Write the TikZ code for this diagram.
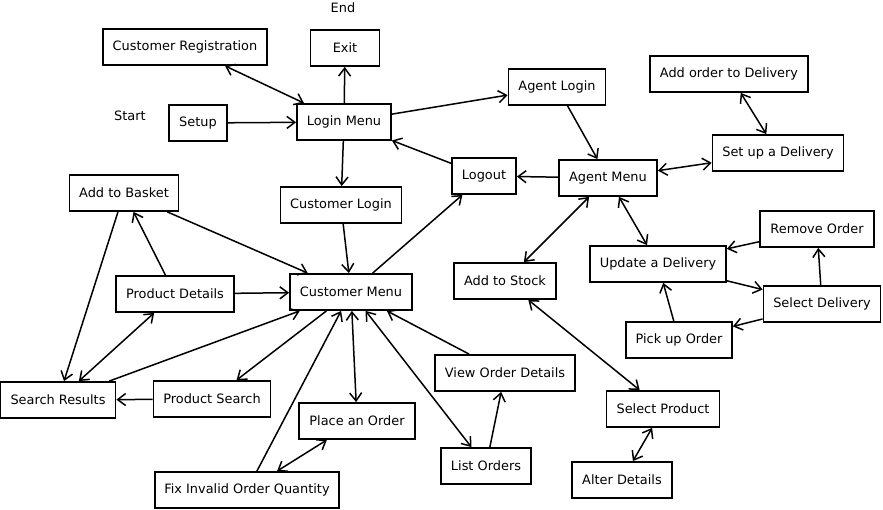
\documentclass[tikz,border=0pt]{standalone}
\usepackage{fontspec}
\setmainfont{DejaVu Sans}
\usetikzlibrary{shapes}
\usetikzlibrary{arrows.meta}
\tikzset{
    box/.style = {rectangle, draw=black, line width=1.8pt, minimum height=36pt, inner sep=0pt, fill=white},
    tag/.style = {inner sep=0pt},
    edgen/.style = {-{Straight Barb[length=8pt,width=12pt]}, line width=1.5pt},
    edgeb/.style = {{Straight Barb[length=8pt,width=12pt]}-{Straight Barb[length=8pt,width=12pt]}, line width=1.5pt},
    every picture/.style={font issue=\fontsize{12.9}{15}},
    font issue/.style={execute at begin picture={#1\selectfont}
  }
}
\begin{document}
\begin{tikzpicture}[x=1pt,y=-1pt]
\useasboundingbox (0,0) rectangle (883,510);
%
\node[tag] at (343, 8) (end) {End};
\node[tag] at (130, 116) (start) {Start};
\node[box, minimum width=164pt] at (185, 47) (custreg) {Customer Registration};
\node[box, minimum width=69pt] at (345, 48) (exit) {Exit};
\node[box, minimum width=58pt] at (198, 123) (setup) {Setup};
\node[box, minimum width=94pt] at (344, 122) (loginmenu) {Login Menu};
\node[box, minimum width=109pt] at (124, 193) (basket) {Add to Basket};
\node[box, minimum width=121pt] at (341, 205) (custlogin) {Customer Login};
\node[box, minimum width=97pt] at (557, 87) (agentlogin) {Agent Login};
\node[box, minimum width=158pt] at (729, 74) (addorder) {Add order to Delivery};
\node[box, minimum width=131pt] at (778, 153) (setupdel) {Set up a Delivery};
\node[box, minimum width=64pt] at (484, 176) (logout) {Logout};
\node[box, minimum width=98pt] at (608, 178) (agentmenu) {Agent Menu};
\node[box, minimum width=114pt] at (817, 229) (remove) {Remove Order};
\node[box, minimum width=118pt] at (175, 294) (proddet) {Product Details};
\node[box, minimum width=122pt] at (351, 292) (custmenu) {Customer Menu};
\node[box, minimum width=115pt] at (58, 400) (results) {Search Results};
\node[box, minimum width=117pt] at (212, 399) (prodsearch) {Product Search};
\node[box, minimum width=116pt] at (357, 421) (place) {Place an Order};
\node[box, minimum width=184pt] at (247, 490) (fixqty) {Fix Invalid Order Quantity};
\node[box, minimum width=136pt] at (658, 264) (updatedel) {Update a Delivery};
\node[box, minimum width=102pt] at (505, 281) (stock) {Add to Stock};
\node[box, minimum width=117pt] at (822, 304) (selectdel) {Select Delivery};
\node[box, minimum width=106pt] at (679, 340) (pickup) {Pick up Order};
\node[box, minimum width=140pt] at (505, 373) (viewdet) {View Order Details};
\node[box, minimum width=113pt] at (663, 409) (selectprod) {Select Product};
\node[box, minimum width=90pt] at (486, 466) (listorders) {List Orders};
\node[box, minimum width=100pt] at (622, 480) (alter) {Alter Details};
%
\draw[edgeb] (custreg) edge (loginmenu);
\draw[edgen] (loginmenu) edge (exit);
\draw[edgen] (setup) edge (loginmenu);
\draw[edgen] (loginmenu) edge (custlogin);
\draw[edgen] (loginmenu) edge (agentlogin);
\draw[edgen] (logout) edge (loginmenu);
\draw[edgen] (agentlogin) edge (agentmenu);
\draw[edgen] (agentmenu) edge (logout);
\draw[edgeb] (agentmenu) edge (setupdel);
\draw[edgeb] (addorder) edge (setupdel);
\draw[edgen] (custmenu) edge (logout);
\draw[edgeb] (agentmenu) edge (stock);
\draw[edgeb] (agentmenu) edge (updatedel);
\draw[edgen] (remove) edge (updatedel);
\draw[edgen] (updatedel) edge (selectdel);
\draw[edgen] (selectdel) edge (remove);
\draw[edgen] (selectdel) edge (pickup);
\draw[edgen] (pickup) edge (updatedel);
\draw[edgeb] (stock) edge (selectprod);
\draw[edgeb] (selectprod) edge (alter);
%
\draw[edgen] (custlogin) edge (custmenu);
\draw[edgen] (basket) edge (custmenu);
\draw[edgen] (basket) edge (results);
\draw[edgen] (proddet) edge (basket);
\draw[edgen] (proddet) edge (custmenu);
\draw[edgeb] (proddet) edge (results);
\draw[edgen] (results) edge (custmenu);
\draw[edgen] (custmenu) edge (prodsearch);
\draw[edgen] (prodsearch) edge (results);
\draw[edgen] (fixqty) edge (custmenu);
\draw[edgeb] (custmenu) edge (place);
\draw[edgeb] (place) edge (fixqty);
\draw[edgeb] (custmenu) edge (listorders);
\draw[edgen] (viewdet) edge (custmenu);
\draw[edgen] (listorders) edge (viewdet);

\end{tikzpicture}
\end{document}
